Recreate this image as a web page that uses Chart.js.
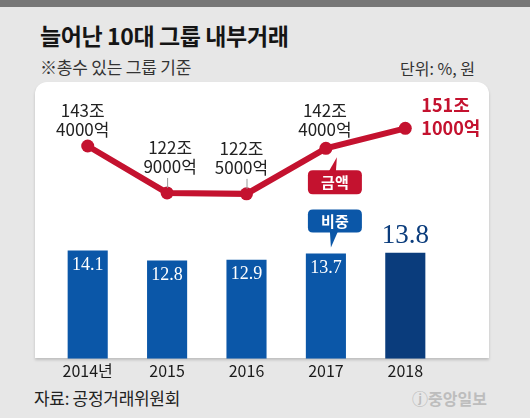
<!DOCTYPE html>
<html><head><meta charset="utf-8">
<script src="https://cdn.jsdelivr.net/npm/chart.js@4.4.0/dist/chart.umd.min.js"></script>
<style>
html,body{margin:0;padding:0;}
body{width:530px;height:418px;background:#e7e7e7;position:relative;overflow:hidden;font-family:"Noto Sans CJK KR","Noto Sans",sans-serif;}
#topbar{position:absolute;left:0;top:0;width:530px;height:7px;background:#777;}
#title{position:absolute;left:40px;top:19px;font-size:23px;font-weight:700;color:#151515;line-height:32px;letter-spacing:-0.4px;white-space:nowrap;}
#sub{position:absolute;left:40px;top:55px;font-size:17px;color:#333;line-height:24px;white-space:nowrap;letter-spacing:-0.2px;}
#unit{position:absolute;right:55px;top:56px;font-size:16px;color:#333;line-height:24px;white-space:nowrap;}
#panel{position:absolute;left:35px;top:82px;width:454px;height:276px;background:#fff;border-radius:12px 12px 0 0;box-shadow:0 2px 3px rgba(0,0,0,0.18);}
#src{position:absolute;left:34px;top:385px;font-size:17px;color:#222;line-height:26px;white-space:nowrap;letter-spacing:-0.3px;}
#logo{position:absolute;right:43px;top:386px;font-size:16px;font-weight:700;color:#bdbdbd;line-height:24px;white-space:nowrap;}
#wrap{position:absolute;left:0;top:0;width:530px;height:418px;}
</style>
</head>
<body>
<div id="topbar"></div>
<div id="title">늘어난 10대 그룹 내부거래</div>
<div id="sub">※총수 있는 그룹 기준</div>
<div id="unit">단위: %, 원</div>
<div id="panel"></div>
<div id="src">자료: 공정거래위원회</div>
<div id="logo">ⓙ중앙일보</div>
<div id="wrap"><canvas id="c" width="530" height="418"></canvas></div>
<script>
const years = ['2014년', '2015', '2016', '2017', '2018'];
const shareValues = [14.1, 12.8, 12.9, 13.7, 13.8];
const amountValues = [143.4, 122.9, 122.5, 142.4, 151.1];
const amountLabels = [['143조', '4000억'], ['122조', '9000억'], ['122조', '5000억'], ['142조', '4000억'], ['151조', '1000억']];
const calloutAmount = '금액';
const calloutShare = '비중';

const RED = '#c4122f';
const BLUE = '#0b57a8';
const NAVY = '#0a3c7c';
const labelPlacement = [
  {dx: -5, dy: -35, leader: false},
  {dx: 3, dy: -45, leader: true},
  {dx: -5, dy: -45, leader: true},
  {dx: -1, dy: -38, leader: false}
];

function rr(ctx, x, y, w, h, r) {
  ctx.beginPath();
  ctx.moveTo(x + r, y);
  ctx.lineTo(x + w - r, y); ctx.quadraticCurveTo(x + w, y, x + w, y + r);
  ctx.lineTo(x + w, y + h - r); ctx.quadraticCurveTo(x + w, y + h, x + w - r, y + h);
  ctx.lineTo(x + r, y + h); ctx.quadraticCurveTo(x, y + h, x, y + h - r);
  ctx.lineTo(x, y + r); ctx.quadraticCurveTo(x, y, x + r, y);
  ctx.closePath();
}

const overlay = {
  id: 'overlay',
  afterDatasetsDraw(chart) {
    const ctx = chart.ctx;
    const lineMeta = chart.getDatasetMeta(0);
    const barMeta = chart.getDatasetMeta(1);
    ctx.save();
    barMeta.data.forEach((bar, i) => {
      ctx.textAlign = 'center';
      ctx.textBaseline = 'middle';
      if (i === shareValues.length - 1) {
        ctx.font = '27px "Liberation Serif", serif';
        ctx.fillStyle = NAVY;
        ctx.fillText(shareValues[i].toFixed(1), bar.x, bar.y - 17);
      } else {
        ctx.font = '18px "Liberation Serif", serif';
        ctx.fillStyle = '#fff';
        ctx.fillText(shareValues[i].toFixed(1), bar.x, bar.y + 15);
      }
    });
    lineMeta.data.forEach((pt, i) => {
      const lab = amountLabels[i];
      ctx.textBaseline = 'middle';
      if (i === amountLabels.length - 1) {
        ctx.font = 'bold 18px "Noto Sans CJK KR", sans-serif';
        ctx.fillStyle = RED;
        ctx.textAlign = 'left';
        ctx.fillText(lab[0], pt.x + 16, pt.y - 23);
        ctx.fillText(lab[1], pt.x + 16, pt.y);
      } else {
        const p = labelPlacement[i];
        ctx.font = '17px "Noto Sans CJK KR", sans-serif';
        ctx.fillStyle = '#222';
        ctx.textAlign = 'center';
        ctx.fillText(lab[0], pt.x + p.dx, pt.y + p.dy);
        ctx.fillText(lab[1], pt.x + p.dx, pt.y + p.dy + 19);
        if (p.leader) {
          ctx.strokeStyle = '#999';
          ctx.lineWidth = 1;
          ctx.beginPath();
          ctx.moveTo(pt.x + 0.5, pt.y - 15);
          ctx.lineTo(pt.x + 0.5, pt.y - 5);
          ctx.stroke();
        }
      }
    });
    const p17 = lineMeta.data[3];
    const b17 = barMeta.data[3];
    let bx = p17.x - 18, by = p17.y + 22;
    ctx.fillStyle = RED;
    ctx.beginPath();
    ctx.moveTo(bx + 21, by + 1);
    ctx.lineTo(bx + 28, by + 1);
    ctx.lineTo(bx + 29, by - 13);
    ctx.closePath();
    ctx.fill();
    rr(ctx, bx, by, 54, 24, 5);
    ctx.fill();
    ctx.fillStyle = '#fff';
    ctx.font = 'bold 15px "Noto Sans CJK KR", sans-serif';
    ctx.textAlign = 'center';
    ctx.textBaseline = 'middle';
    ctx.fillText(calloutAmount, bx + 27, by + 12);
    bx = b17.x - 18; by = b17.y - 44;
    ctx.fillStyle = BLUE;
    ctx.beginPath();
    ctx.moveTo(bx + 22, by + 22);
    ctx.lineTo(bx + 30, by + 22);
    ctx.lineTo(bx + 23, by + 38);
    ctx.closePath();
    ctx.fill();
    rr(ctx, bx, by, 54, 23, 5);
    ctx.fill();
    ctx.fillStyle = '#fff';
    ctx.fillText(calloutShare, bx + 27, by + 11.5);
    ctx.restore();
  }
};

new Chart(document.getElementById('c'), {
  type: 'bar',
  data: {
    labels: years,
    datasets: [
      {
        type: 'line',
        data: amountValues,
        yAxisID: 'y1',
        borderColor: RED,
        backgroundColor: RED,
        borderWidth: 6,
        pointRadius: 6.5,
        pointBackgroundColor: RED,
        pointBorderWidth: 0,
        tension: 0,
        fill: false
      },
      {
        type: 'bar',
        data: shareValues,
        yAxisID: 'y',
        backgroundColor: [BLUE, BLUE, BLUE, BLUE, NAVY],
        borderWidth: 0,
        categoryPercentage: 1,
        barPercentage: 0.505
      }
    ]
  },
  options: {
    responsive: false,
    animation: false,
    layout: {padding: {left: 48, right: 85, top: 83, bottom: 34}},
    plugins: {legend: {display: false}, tooltip: {enabled: false}},
    scales: {
      x: {
        offset: true,
        grid: {display: false, drawTicks: false},
        border: {display: false},
        ticks: {color: '#1a1a1a', padding: 3, font: {size: 16, family: '"Noto Sans CJK KR", sans-serif'}}
      },
      y: {display: false, min: 0, max: 35.9},
      y1: {display: false, min: 50.5, max: 170.9}
    }
  },
  plugins: [overlay]
});
</script>
</body></html>
